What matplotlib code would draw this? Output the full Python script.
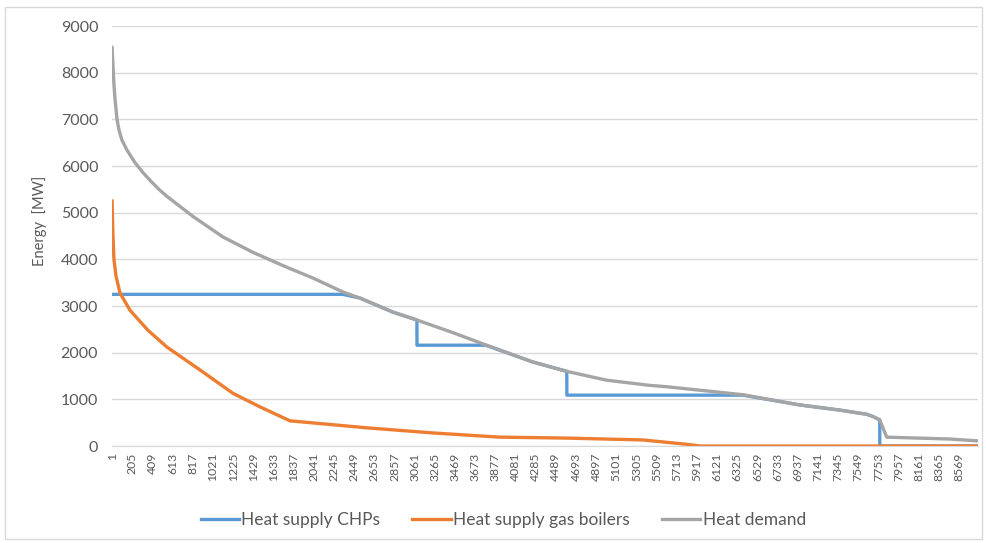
import matplotlib.pyplot as plt
from matplotlib.patches import Rectangle

plt.rcParams['font.family'] = ['Lato', 'DejaVu Sans']

# hours of the year (sorted load duration) and the heat flows in MW
demand_h = [1, 10, 20, 30, 51, 70, 100, 152, 230, 313, 400, 485, 556, 819, 1122,
            1426, 1769, 2032, 2336, 2508, 2841, 3084, 3448, 3751, 4257, 4600,
            5005, 5440, 5612, 6380, 6957, 7361, 7634, 7700, 7765, 7836, 8473, 8760]
demand_mw = [8540, 8150, 7750, 7450, 7000, 6780, 6560, 6340, 6080, 5860, 5660,
             5480, 5350, 4920, 4480, 4150, 3830, 3600, 3300, 3170, 2870, 2700,
             2430, 2190, 1800, 1600, 1410, 1300, 1270, 1100, 880, 770, 680, 630,
             560, 190, 150, 110]

chp_h = [1, 2336, 2508, 2841, 3084, 3085, 3780, 4257, 4600, 4601, 6380, 6957,
         7361, 7634, 7700, 7765, 7766, 8760]
chp_mw = [3250, 3250, 3170, 2870, 2700, 2160, 2160, 1800, 1600, 1090, 1090, 880,
          770, 680, 630, 560, 0, 0]

boiler_h = [1, 10, 20, 40, 81, 182, 364, 556, 890, 1223, 1496, 1800, 2578, 3246,
            3923, 4600, 5369, 5800, 5950, 8760]
boiler_mw = [5250, 4500, 4000, 3650, 3280, 2910, 2480, 2120, 1630, 1130, 840, 540,
             390, 280, 190, 170, 130, 40, 0, 0]

tick_hours = list(range(1, 8761, 204))

fig = plt.figure(figsize=(9.87, 5.43), dpi=100)
ax = fig.add_axes([0.1135, 0.1786, 0.8775, 0.7735])

ax.plot(chp_h, chp_mw, color='#5B9BD5', lw=2.4, label='Heat supply CHPs')
ax.plot(boiler_h, boiler_mw, color='#ED7D31', lw=2.4, label='Heat supply gas boilers')
ax.plot(demand_h, demand_mw, color='#A5A5A5', lw=2.4, label='Heat demand')

ax.set_xlim(0.5, 8760.5)
ax.set_ylim(0, 9000)
ax.set_yticks(range(0, 9001, 1000))
ax.set_xticks(tick_hours)
ax.set_xticklabels([str(t) for t in tick_hours], rotation=90, fontsize=8.8,
                   color='#595959')
ax.tick_params(axis='y', labelsize=11.5, labelcolor='#595959', length=0, pad=10)
ax.tick_params(axis='x', length=0, pad=5)
ax.grid(axis='y', color='#D9D9D9', lw=1)
ax.set_axisbelow(True)
for side in ['top', 'right', 'left']:
    ax.spines[side].set_visible(False)
ax.spines['bottom'].set_color('#D9D9D9')

ax.set_ylabel('Energy  [MW]', fontsize=10.5, color='#595959')
ax.yaxis.set_label_coords(-0.075, 0.536)

fig.legend(loc='center', bbox_to_anchor=(0.51, 0.042), ncol=3, frameon=False,
           fontsize=12.5, handlelength=2.2, handletextpad=0.15, columnspacing=1.85,
           labelcolor='#595959')

fig.patches.append(Rectangle((0.005, 0.008), 0.99, 0.98, transform=fig.transFigure,
                             fill=False, edgecolor='#D9D9D9', lw=1))

fig.savefig('out.png', dpi=100)
